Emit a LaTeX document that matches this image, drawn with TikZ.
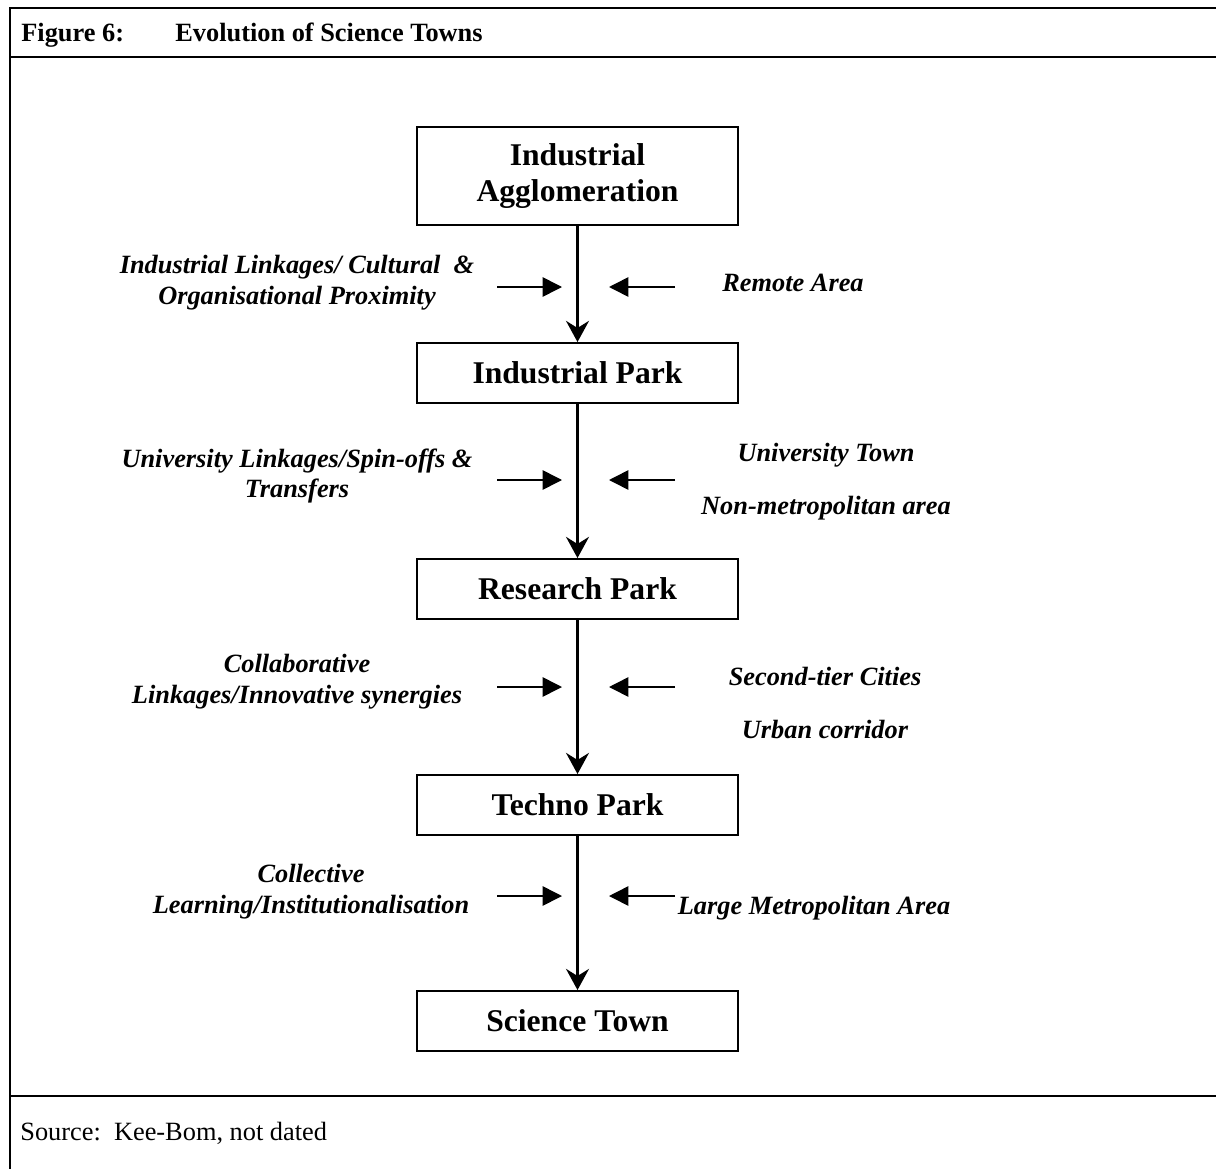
\documentclass[tikz,border=0pt]{standalone}
\usepackage{fontspec}
\setmainfont{Liberation Serif}
\usetikzlibrary{arrows.meta,positioning}

\begin{document}
\begin{tikzpicture}[x=0.02cm,y=-0.02cm,
    stagebox/.style={draw, line width=1.1pt, minimum width=6.42cm, minimum height=1.2cm, font=\fontsize{18}{21}\selectfont\bfseries, align=center},
    flowline/.style={line width=1.8pt, -{Stealth[length=12pt,width=13pt,inset=4pt]}},
    pushline/.style={line width=0.9pt, -{Triangle[length=11pt,width=11pt]}},
    factor/.style={font=\fontsize{15}{17.5}\selectfont\bfseries\itshape, align=center},
    frameline/.style={line width=1.2pt}]
  \useasboundingbox (0,0) rectangle (1216,1169);
  % frame
  \draw[frameline] (1216,8) -- (10,8) -- (10,1169);
  \draw[frameline] (10,57) -- (1216,57);
  \draw[frameline] (10,1096) -- (1216,1096);
  \node[anchor=base west, inner sep=0pt, font=\fontsize{15}{18}\selectfont\bfseries] (title) at (21,42) {Figure 6:};
  \node[anchor=base west, inner sep=0pt, font=\fontsize{15}{18}\selectfont\bfseries] (caption) at (175,42) {Evolution of Science Towns};
  \node[anchor=base west, inner sep=0pt, font=\fontsize{15}{18}\selectfont] (source) at (20,1140) {Source:\ \ Kee-Bom, not dated};

  % stages
  \node[stagebox, minimum height=1.96cm] (agglo) at (577.5,176) {Industrial\\Agglomeration};
  \node[stagebox] (ipark) at (577.5,373) {Industrial Park};
  \node[stagebox] (rpark) at (577.5,589) {Research Park};
  \node[stagebox] (tpark) at (577.5,805) {Techno Park};
  \node[stagebox] (stown) at (577.5,1021) {Science Town};

  \draw[flowline] (agglo) -- (ipark);
  \draw[flowline] (ipark) -- (rpark);
  \draw[flowline] (rpark) -- (tpark);
  \draw[flowline] (tpark) -- (stown);

  % side arrows
  \foreach \n/\y in {a/287,b/480,c/687,d/896}{
    \coordinate (l\n) at (497,\y);
    \coordinate (li\n) at (562,\y);
    \coordinate (r\n) at (675,\y);
    \coordinate (ri\n) at (609,\y);
    \draw[pushline] (l\n) -- (li\n);
    \draw[pushline] (r\n) -- (ri\n);
  }

  % labels
  \node[factor] (fa) at (297,283) {Industrial Linkages/ Cultural \ \&\\Organisational Proximity};
  \node[factor] (ga) at (793,283) {Remote Area};
  \node[factor] (fb) at (297,476) {University Linkages/Spin-offs \&\\Transfers};
  \node[factor, font=\fontsize{15}{30}\selectfont\bfseries\itshape] (gb) at (826,482) {University Town\\Non-metropolitan area};
  \node[factor] (fc) at (297,682) {Collaborative\\Linkages/Innovative synergies};
  \node[factor, font=\fontsize{15}{30}\selectfont\bfseries\itshape] (gc) at (825,703) {Second-tier Cities\\Urban corridor};
  \node[factor] (fd) at (311,892) {Collective\\Learning/Institutionalisation};
  \node[factor] (gd) at (814,908) {Large Metropolitan Area};
\end{tikzpicture}
\end{document}
